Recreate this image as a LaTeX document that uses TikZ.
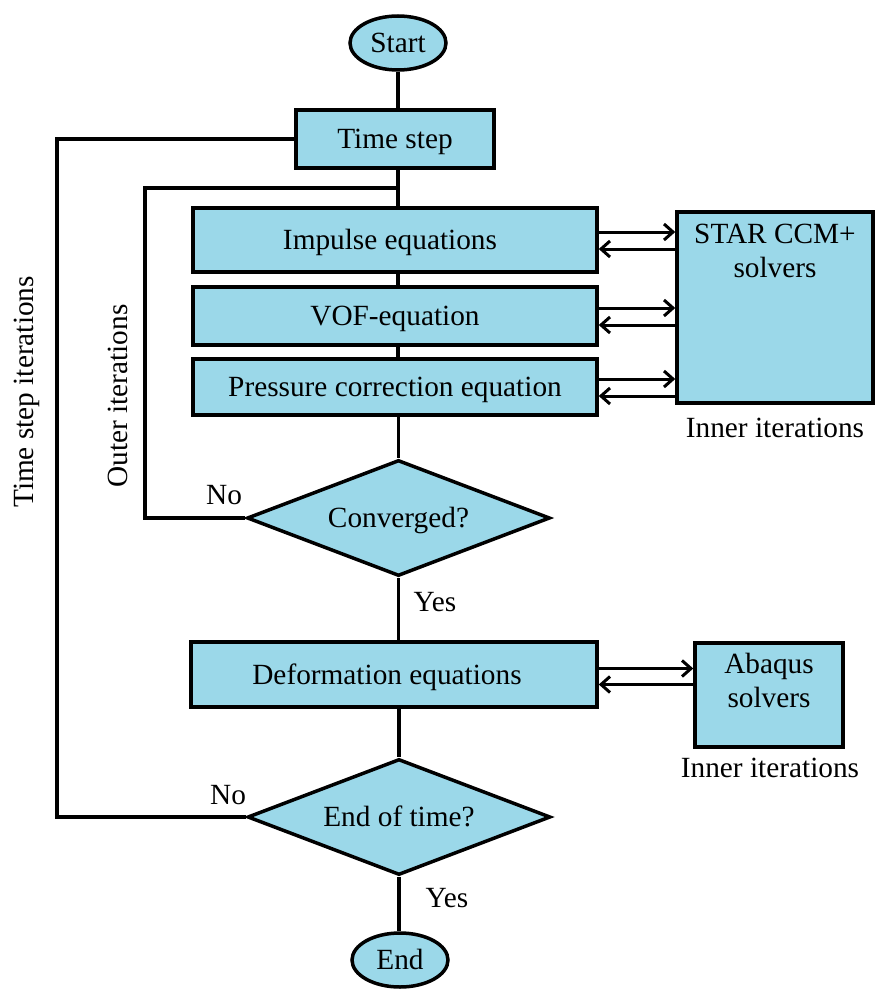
\documentclass[tikz,border=0pt]{standalone}
\usepackage{fontspec}
\setmainfont{Liberation Serif}
\usetikzlibrary{shapes.geometric,arrows.meta,calc}
\definecolor{boxblue}{RGB}{155,216,233}
\tikzset{
  base/.style={draw=black,fill=boxblue,line width=3.5pt,inner sep=0pt,font=\fontsize{29.3}{34}\selectfont,text height=19.5pt,text depth=0pt},
  term/.style={base,ellipse,minimum width=96pt,minimum height=54pt},
  proc/.style={base,rectangle},
  decis/.style={base,diamond,aspect=2.6,minimum width=303pt,minimum height=116pt},
  lbl/.style={font=\fontsize{29.3}{34}\selectfont,inner sep=0pt},
  conn/.style={line width=3.5pt},
  arr/.style={line width=3pt,-{Straight Barb[length=9pt,width=16pt,line width=3pt]}}
}
\begin{document}
\begin{tikzpicture}[x=1pt,y=-1pt]
\useasboundingbox (0,0) rectangle (876,995);
% nodes
\node[term] (start) at (398,43) {Start};
\node[proc,minimum width=198pt,minimum height=58pt] (ts) at (395,139) {Time step};
\node[proc,minimum width=404pt,minimum height=64pt] (imp) at (395,240) {Impulse equations\hspace*{10pt}};
\node[proc,minimum width=404pt,minimum height=58pt] (vof) at (395,316) {VOF-equation};
\node[proc,minimum width=404pt,minimum height=56pt] (pr) at (395,387) {Pressure correction equation};
\node[decis] (conv) at (398.5,518) {Converged?};
\node[proc,minimum width=406pt,minimum height=65pt] (def) at (394,674.5) {Deformation equations\hspace*{14pt}};
\node[decis] (eot) at (399,817) {End of time?};
\node[term] (end) at (400,960) {End};
\node[proc,minimum width=196pt,minimum height=191pt] (star) at (775,307.5) {};
\node[lbl,anchor=north,align=center] (startxt) at ([yshift=-14pt]star.north) {STAR CCM+\\solvers};
\node[proc,minimum width=148pt,minimum height=104pt] (abq) at (769,695) {};
\node[lbl,anchor=north,align=center] (abqtxt) at ([yshift=-12pt]abq.north) {Abaqus\\solvers};
\node[lbl] (inner1) at (775,428) {Inner iterations};
\node[lbl] (inner2) at (770,768) {Inner iterations};
\node[lbl,rotate=90] (outer) at (118,396) {Outer iterations};
\node[lbl,rotate=90] (tsi) at (27,392) {Time step iterations};
\node[lbl] (no1) at (224,495) {No};
\node[lbl] (no2) at (228,795) {No};
\node[lbl] (yes1) at (435,602) {Yes};
\node[lbl] (yes2) at (447,898) {Yes};
% helper coordinates
\coordinate (j1) at (398,188);
\coordinate (ol) at (145,0);
\coordinate (tl) at (57,0);
% main flow (vertical connectors)
\draw[conn] (start.south) -- (start.south |- ts.north);
\draw[conn] (ts.south -| start.south) -- (imp.north -| start.south);
\draw[conn] (imp.south -| start.south) -- (vof.north -| start.south);
\draw[conn] (vof.south -| start.south) -- (pr.north -| start.south);
\draw[conn] (pr.south -| conv.north) -- (conv.north);
\draw[conn] (conv.south) -- (conv.south |- def.north);
\draw[conn] (def.south -| eot.north) -- (eot.north);
\draw[conn] (eot.south) -- (eot.south |- end.north);
% loops
\draw[conn] (conv.west) -- (conv.west -| ol) |- (j1);
\draw[conn] (eot.west) -- (eot.west -| tl) |- (ts.west);
% solver arrows
\foreach \b in {imp,vof,pr}{
  \draw[arr] ([yshift=8pt]\b.east) -- ([yshift=8pt]\b.east -| star.west);
  \draw[arr] ([yshift=-9pt]\b.east -| star.west) -- ([yshift=-9pt]\b.east);
}
\draw[arr] ([yshift=6pt]def.east) -- ([yshift=6pt]def.east -| abq.west);
\draw[arr] ([yshift=-10pt]def.east -| abq.west) -- ([yshift=-10pt]def.east);
\end{tikzpicture}
\end{document}
